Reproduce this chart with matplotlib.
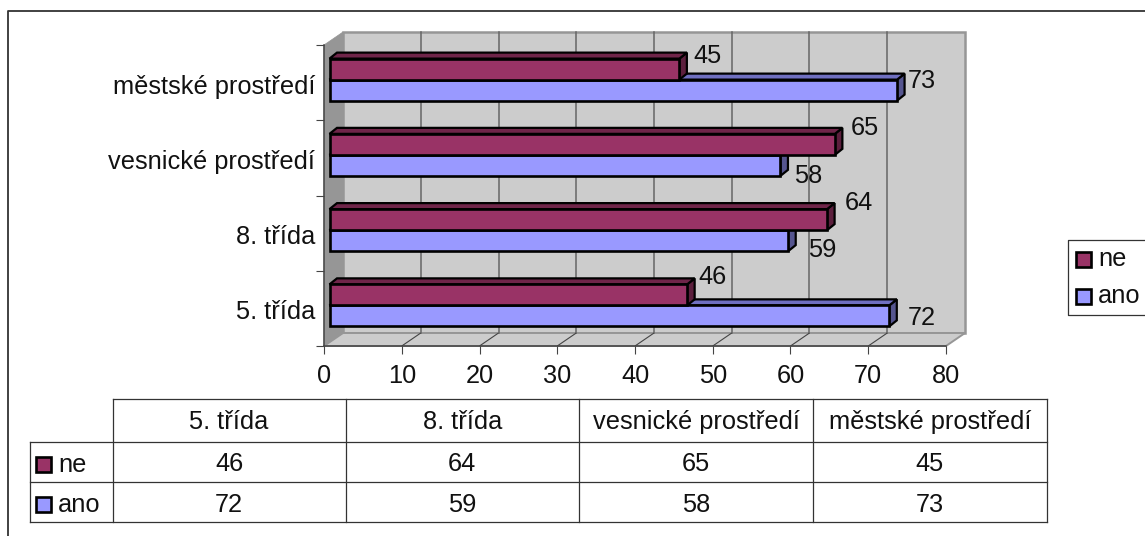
import matplotlib
matplotlib.use('Agg')
import matplotlib.pyplot as plt
from matplotlib.patches import Polygon, Rectangle
from matplotlib.transforms import Affine2D

plt.rcParams['font.family'] = ['Liberation Sans', 'DejaVu Sans']

categories = ['5. třída', '8. třída', 'vesnické prostředí', 'městské prostředí']
ne_values = [46, 64, 65, 45]
ano_values = [72, 59, 58, 73]
series_names = ['ne', 'ano']
x_ticks = [0, 10, 20, 30, 40, 50, 60, 70, 80]
# label offsets from bar end in px
ne_label_off = [(16.5, 17.5), (23, 16.5), (21, 16.5), (20, 13.5)]
ano_label_off = [(24, -2), (25, -9), (19, -11), (16.5, 9)]

W, H = 1145, 536
NE, NE_TOP, NE_SIDE = '#993366', '#6f2549', '#5c1f3d'
ANO, ANO_TOP, ANO_SIDE = '#9999ff', '#6f6fc0', '#55558f'
WALL, EDGE, GRID = '#cccccc', '#969696', '#666666'
TXT = '#111111'
FS = 18.3

fig = plt.figure(figsize=(W / 100, H / 100), dpi=100, facecolor='white')

pg = fig.add_axes([0, 0, 1, 1], zorder=0)
pg.set_xlim(0, W); pg.set_ylim(H, 0); pg.axis('off')

X0, X1, YT, YB = 324, 946, 45, 346
ax = fig.add_axes([X0 / W, 1 - YB / H, (X1 - X0) / W, (YB - YT) / H], zorder=1)
ax.set_xlim(0, 80); ax.set_ylim(0, 4)
ax.patch.set_alpha(0)
for s in ('top', 'right'):
    ax.spines[s].set_visible(False)
for s in ('left', 'bottom'):
    ax.spines[s].set_color('#444444'); ax.spines[s].set_linewidth(1.1)
    ax.spines[s].set_zorder(6)
ax.set_xticks(x_ticks)
ax.set_xticklabels([str(t) for t in x_ticks], fontsize=FS, color=TXT)
ax.set_yticks([0, 1, 2, 3, 4]); ax.set_yticklabels([])
ax.set_yticks([0.48, 1.48, 2.48, 3.48], minor=True)
ax.set_yticklabels(categories, minor=True, fontsize=FS, color=TXT)
ax.tick_params(axis='y', which='minor', length=0, pad=6.5)
ax.tick_params(axis='both', which='major', length=5.5, width=0.8, color='#444444', pad=7.5)

DX, DY = 19, 13


def px(dx, dy):
    return ax.transData + Affine2D().translate(dx, dy)


def depth_poly(x_a, y_a, x_b, y_b, ddx=DX, ddy=DY, base=(0, 0), **kw):
    """Parallelogram between two data points, pushed back in depth (display px)."""
    a = ax.transData.transform((x_a, y_a)) + base
    b = ax.transData.transform((x_b, y_b)) + base
    pts = [a, b, b + (ddx, ddy), a + (ddx, ddy)]
    p = Polygon(pts, closed=True, transform=None, clip_on=False, **kw)
    ax.add_patch(p)
    return p


ax.add_patch(Rectangle((0, 0), 80, 4, transform=px(DX, DY), fc=WALL, ec=EDGE, lw=1.8,
                       clip_on=False, zorder=1))
depth_poly(0, 0, 0, 4, fc=EDGE, ec=EDGE, lw=0.5, zorder=1.1)
depth_poly(0, 0, 80, 0, fc=WALL, ec=EDGE, lw=1.4, zorder=1.1)

for v in x_ticks[1:-1]:
    ax.plot([v, v], [0, 4], transform=px(DX, DY), color=GRID, lw=1.1, clip_on=False, zorder=1.2)
    depth_poly(v, 0, v, 0, fc='none', ec='#444444', lw=0.8, zorder=1.2)

BASE = (5.5, 0)
H_BAR = 21 / 75.25
CY_SHIFT = 0.04
TOP_DX, TOP_DY = 7.5, 6
cy = [0.5 + CY_SHIFT + i for i in range(len(categories))]
for vals, k, c, ctop, cside in [(ano_values, 0, ANO, ANO_TOP, ANO_SIDE),
                                (ne_values, 1, NE, NE_TOP, NE_SIDE)]:
    for i, v in enumerate(vals):
        yc = cy[i] + (k - 0.5) * H_BAR
        y0, y1 = yc - H_BAR / 2, yc + H_BAR / 2
        order = 3 + 0.1 * (k - i)
        ax.barh([yc], [v], height=H_BAR, color=c, edgecolor='black', linewidth=1.9,
                transform=px(*BASE), clip_on=False, zorder=order)
        depth_poly(v, y0, v, y1, ddx=TOP_DX, ddy=TOP_DY, base=BASE, fc=cside, ec='black',
                   lw=1.6, zorder=order - 0.05)
        depth_poly(0, y1, v, y1, ddx=TOP_DX, ddy=TOP_DY, base=BASE, fc=ctop, ec='black',
                   lw=1.6, zorder=order - 0.05)

for vals, k, offs in [(ne_values, 0.5, ne_label_off), (ano_values, -0.5, ano_label_off)]:
    for i, v in enumerate(vals):
        ax.annotate(str(v), (v, cy[i] + k * H_BAR), xytext=offs[i], textcoords='offset pixels',
                    fontsize=FS, color=TXT, va='center', ha='left',
                    annotation_clip=False, zorder=8)

# outer frame
pg.plot([7.5, 7.5, W + 2], [H + 2, 11, 11], color='#333333', lw=1.3, clip_on=False)

# data table
col_x = [112.5, 345.5, 579, 813, 1046.5]
row_y = [399, 441.5, 482, 522]
LEFT = 30
LC = '#333333'
pg.plot([col_x[0], col_x[-1]], [row_y[0]] * 2, color=LC, lw=0.9)
for y in row_y[1:]:
    pg.plot([LEFT, col_x[-1]], [y, y], color=LC, lw=0.9)
for x in col_x:
    pg.plot([x, x], [row_y[0], row_y[-1]], color=LC, lw=0.9)
pg.plot([LEFT, LEFT], [row_y[1], row_y[-1]], color=LC, lw=0.9)
for j, cat in enumerate(categories):
    xc = (col_x[j] + col_x[j + 1]) / 2
    pg.text(xc, (row_y[0] + row_y[1]) / 2 + 2, cat, ha='center', va='center', fontsize=FS, color=TXT)
    pg.text(xc, (row_y[1] + row_y[2]) / 2 + 2.5, str(ne_values[j]), ha='center', va='center', fontsize=FS, color=TXT)
    pg.text(xc, (row_y[2] + row_y[3]) / 2 + 2.5, str(ano_values[j]), ha='center', va='center', fontsize=FS, color=TXT)
for r, (name, c) in enumerate(zip(series_names, (NE, ANO))):
    yc = (row_y[r + 1] + row_y[r + 2]) / 2 + 2.5
    pg.add_patch(Rectangle((36, yc - 7.5), 15, 15, fc=c, ec='black', lw=1.9))
    pg.text(58, yc + 0.5, name, ha='left', va='center', fontsize=FS, color=TXT)

# legend
pg.plot([W + 2, 1067.5, 1067.5, W + 2], [239.5, 239.5, 315, 315], color='#333333', lw=0.9, clip_on=False)
for yc, name, c in ((259, series_names[0], NE), (296, series_names[1], ANO)):
    pg.add_patch(Rectangle((1076, yc - 7.5), 15, 15, fc=c, ec='black', lw=1.9))
    pg.text(1098, yc, name, ha='left', va='center', fontsize=FS, color=TXT)

fig.savefig('out.png', dpi=100)
